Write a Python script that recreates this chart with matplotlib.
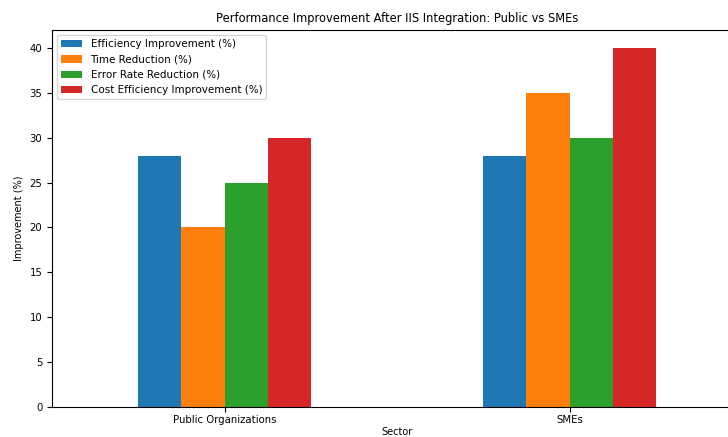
import numpy as np
import pandas as pd
import matplotlib
matplotlib.use("Agg")
import matplotlib.pyplot as plt

# Datos
sectors = ["Public Organizations", "SMEs"]
efficiency = [28, 28]
time_reduction = [20, 35]
error_reduction = [25, 30]
cost_efficiency = [30, 40]

df = pd.DataFrame({
    "Efficiency Improvement (%)": efficiency,
    "Time Reduction (%)": time_reduction,
    "Error Rate Reduction (%)": error_reduction,
    "Cost Efficiency Improvement (%)": cost_efficiency,
}, index=sectors)
df.index.name = "Sector"

W, H = 728, 437
fig = plt.figure(figsize=(W / 100, H / 100), dpi=100)
# el eje se sale por la derecha (captura recortada)
ax = fig.add_axes([52 / W, 1 - 407 / H, (742 - 52) / W, (407 - 30) / H])

df.plot(kind="bar", ax=ax, rot=0)

ax.set_title("Performance Improvement After IIS Integration: Public vs SMEs", fontsize=8.3)
ax.set_xlabel("Sector", fontsize=7, labelpad=2)
ax.set_ylabel("Improvement (%)", fontsize=7)
ax.tick_params(labelsize=7.3)
ax.tick_params(axis="x", pad=2)
ax.legend(loc="upper left", fontsize=7.5)

fig.savefig("out.png", dpi=100)
